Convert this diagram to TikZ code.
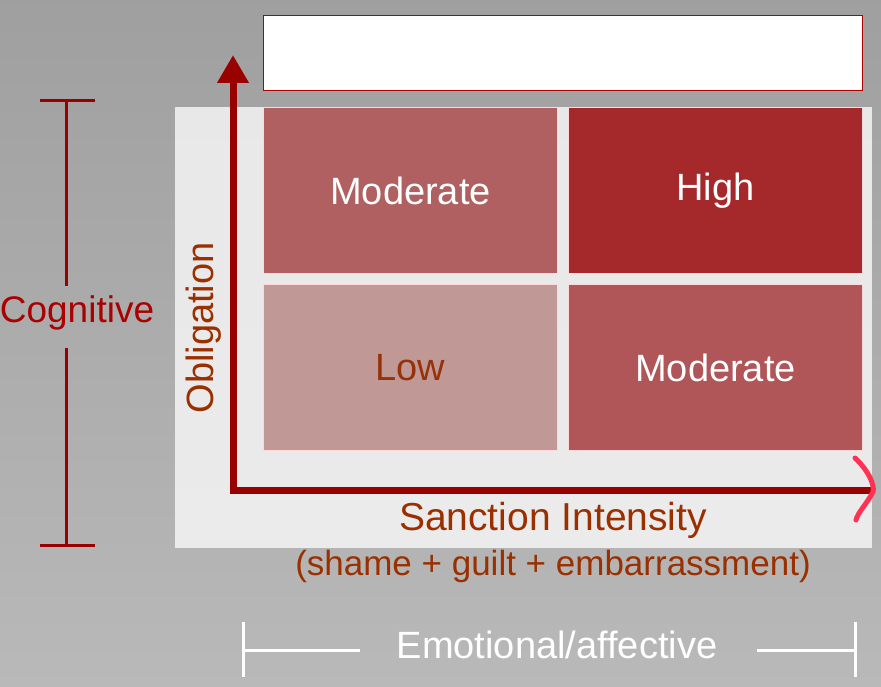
\documentclass[tikz,border=0pt]{standalone}
\usepackage{fontspec}
\setmainfont{Liberation Sans}
\usetikzlibrary{arrows.meta}
\begin{document}
\begin{tikzpicture}[x=1pt,y=-1pt,
  cell/.style={draw=white!85!red,line width=1pt,minimum width=294pt,minimum height=166pt,anchor=north west,inner sep=0pt,font=\fontsize{38}{40}\selectfont},
  axis/.style={line width=7pt,draw=red!60!black},
  lbl/.style={font=\fontsize{38}{40}\selectfont,inner sep=0pt}]
\shade[top color=gray!75,bottom color=gray!55] (0,0) rectangle (881,687);
\useasboundingbox (0,0) rectangle (881,687);
\fill[white!92!gray,opacity=0.85] (175,107) rectangle (872,548);
\node[cell,fill=white,draw=red!70!black,minimum width=599pt,minimum height=75pt] (top) at (263,15) {};
\node[cell,fill={rgb,255:red,176;green,96;blue,96},text=white] (ml) at (263,107) {Moderate};
\node[cell,fill={rgb,255:red,165;green,40;blue,42},text=white] (hi) at (568,107) {High};
\node[cell,fill={rgb,255:red,192;green,152;blue,150},text={rgb,255:red,150;green,50;blue,10}] (lo) at (263,284) {Low};
\node[cell,fill={rgb,255:red,176;green,86;blue,88},text=white] (mr) at (568,284) {Moderate};
\coordinate (o) at (233,490);
\coordinate (ytop) at (233,55);
\coordinate (xr) at (872,490);
\draw[axis,-{Triangle[length=28pt,width=30pt]}] (o) -- (ytop);
\draw[axis] (229.5,490) -- (xr);
\draw[line width=5pt,draw={rgb,255:red,255;green,50;blue,85},line cap=round] (855,458) .. controls (868,470) and (875,485) .. (873,492) .. controls (866,505) and (858,512) .. (856,520);
\node[lbl,rotate=90,text={rgb,255:red,154;green,48;blue,0}] (obl) at (204,328) {Obligation};
\node[lbl,font=\fontsize{39}{40}\selectfont,text={rgb,255:red,154;green,48;blue,0}] (si) at (553,520) {Sanction Intensity};
\node[font=\fontsize{35}{38}\selectfont,inner sep=0pt,text={rgb,255:red,154;green,48;blue,0}] (par) at (553,566) {(shame + guilt + embarrassment)};
\node[lbl,font=\fontsize{37}{40}\selectfont,text={rgb,255:red,170;green,0;blue,0}] (cog) at (77,313) {Cognitive};
\draw[line width=3pt,red!60!black] (40,101) -- (95,101) (40,545) -- (95,545) (66,101) -- (66,286) (66,348) -- (66,545);
\node[lbl,text=white] (emo) at (557,645) {Emotional/affective};
\draw[line width=3pt,white] (243,622) -- (243,677) (855,622) -- (855,677) (243,650) -- (360,650) (757,650) -- (855,650);
\end{tikzpicture}
\end{document}
